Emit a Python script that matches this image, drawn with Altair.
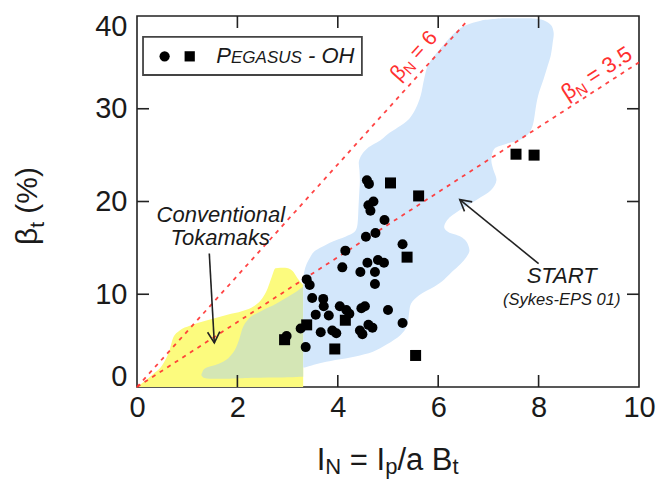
import math
import altair as alt
import pandas as pd

FONT = "Liberation Sans"
TXT = "#1a1a1a"
RED = "#ff3030"
W, H = 502, 371

# ---------------- data ----------------
circle_x = [4.58, 4.62, 4.71, 4.61, 4.65, 4.93, 4.75, 4.56, 5.29, 4.15, 4.09, 4.45, 4.59, 4.80,
            4.92, 4.74, 4.74, 3.38, 3.44, 3.49, 3.71, 3.72, 4.04, 4.17, 4.23, 4.47, 4.54, 5.00,
            3.56, 3.82, 3.26, 3.66, 3.89, 3.97, 4.44, 4.49, 4.61, 4.69, 5.29, 3.36, 2.98]
circle_y = [22.3, 21.9, 20.0, 19.6, 19.0, 18.0, 16.6, 16.2, 15.4, 14.7, 12.9, 12.4, 13.4, 13.7,
            13.4, 12.4, 11.1, 11.6, 11.0, 9.6, 9.5, 8.7, 8.7, 8.3, 7.9, 8.5, 8.7, 8.3,
            7.8, 7.7, 6.3, 5.9, 6.1, 5.8, 6.1, 5.7, 6.7, 6.4, 6.9, 4.3, 5.5]
square_x = [5.05, 5.61, 7.55, 7.91, 5.38, 3.38, 4.15, 2.94, 3.94, 5.55]
square_y = [22.0, 20.6, 25.1, 25.0, 14.0, 6.7, 7.2, 5.1, 4.1, 3.4]

# START region (horizontal slices: y, left x, right x)
blue_y = [2.1, 2.5, 2.9, 3.3, 3.8, 4.6, 5.6, 6.6, 8.0, 9.0, 9.9, 10.8, 11.6, 12.4, 13.3, 14.0,
          14.6, 15.1, 15.7, 16.2, 16.7, 17.2, 18.0, 19.1, 20.2, 21.2, 22.3, 23.4, 24.3, 25.0,
          25.7, 26.2, 26.6, 27.2, 28.0, 28.9, 30.0, 31.4, 33.2, 34.6, 35.7, 37.1, 38.2, 39.0,
          39.5, 39.75]
blue_left = [3.31, 3.31, 3.31, 3.31, 3.31, 3.31, 3.31, 3.31, 3.31, 3.31, 3.31, 3.31, 3.31, 3.33,
             3.38, 3.45, 3.53, 3.68, 3.90, 4.15, 4.33, 4.38, 4.40, 4.41, 4.42, 4.43, 4.44, 4.43,
             4.42, 4.47, 4.58, 4.72, 4.85, 4.98, 5.20, 5.42, 5.55, 5.65, 5.72, 5.79, 5.92, 6.14,
             6.33, 6.55, 6.85, 7.30]
blue_right = [3.35, 3.60, 3.95, 4.35, 4.70, 4.98, 5.25, 5.38, 5.42, 5.46, 5.62, 5.92, 6.12, 6.27,
              6.45, 6.56, 6.62, 6.61, 6.56, 6.45, 6.20, 6.12, 6.18, 6.44, 6.77, 7.05, 7.16, 7.10,
              7.06, 7.07, 7.12, 7.35, 7.60, 7.78, 7.87, 7.91, 7.94, 7.99, 8.10, 8.18, 8.24, 8.28,
              8.30, 8.25, 8.12, 7.85]

# Conventional tokamak region (upper edge, down to 0)
yellow_x = [0.0, 0.3, 0.52, 0.65, 0.72, 0.85, 1.05, 1.4, 1.8, 2.1, 2.35, 2.5, 2.6, 2.68, 2.76,
            2.95, 3.1, 3.2, 3.31]
yellow_top = [0.0, 1.3, 2.5, 4.0, 5.3, 6.1, 6.6, 7.2, 7.8, 8.2, 8.8, 9.6, 10.6, 11.8, 12.8,
              12.85, 12.5, 11.7, 11.0]

# overlap region
green_x = [1.28, 1.33, 1.45, 1.6, 1.85, 1.97, 2.04, 2.1, 2.2, 2.45, 2.78, 3.0, 3.18, 3.31]
green_low = [1.3, 1.0, 0.9, 0.88, 0.9, 0.92, 0.93, 0.95, 0.97, 1.0, 1.02, 1.05, 1.08, 1.1]
green_high = [1.3, 1.9, 2.2, 2.45, 3.3, 4.2, 5.2, 6.3, 7.2, 8.1, 9.0, 9.7, 10.3, 10.8]

beta_n = [6.0, 3.5]
beta_x_end = [6.6, 10.0]

x_ticks = [0, 2, 4, 6, 8, 10]
y_ticks = [0, 10, 20, 30, 40]
x_minor = [2, 4, 6, 8]
y_minor = [10, 20, 30]

note_text = ["Conventional", "Tokamaks", "START", "(Sykes-EPS 01)"]
note_x = [1.67, 1.66, 8.46, 8.46]
note_y = [17.75, 15.3, 11.18, 8.84]
note_size = [22, 22, 22, 16.5]

arrow_x = [1.44, 8.0]
arrow_y = [14.4, 13.3]
arrow_x2 = [1.54, 6.43]
arrow_y2 = [4.75, 20.2]

legend_x = [0.55, 1.05]
legend_y = [35.65, 35.65]
legend_shape = ["circle", "square"]
legend_box = [0.12, 4.48, 37.74, 33.64]

# ---------------- helpers ----------------
XS = alt.Scale(domain=[0, 10], nice=False, zero=False)
YS = alt.Scale(domain=[0, 40], nice=False, zero=False)

CW = {'I': .278, 'N': .722, ' ': .278, '=': .584, 'p': .556, '/': .278, 'a': .556, 'B': .667,
      't': .278, 'β': .575, '(': .333, '%': .889, ')': .333, '6': .556, '3': .556, '.': .278,
      '5': .556, 'P': .667, 'E': .667, 'G': .778, 'A': .667, 'S': .667, 'U': .722, '-': .333,
      'O': .778, 'H': .722}


def text_parts(x, y, parts, angle=0, italic=False, color=TXT):
    layers = []
    off = 0.0
    for txt, size, dy in parts:
        lead = len(txt) - len(txt.lstrip(' '))
        shown = txt.strip(' ')
        dx = off + lead * CW[' '] * size
        if shown:
            props = dict(align='left', baseline='alphabetic', dx=dx, dy=dy, fontSize=size,
                         font=FONT, color=color)
            if angle:
                props['angle'] = angle
            if italic:
                props['fontStyle'] = 'italic'
            layers.append(
                alt.Chart(pd.DataFrame({'x': [x], 'y': [y], 't': [shown]}))
                .mark_text(**props)
                .encode(x=alt.X('x:Q', scale=XS, axis=None),
                        y=alt.Y('y:Q', scale=YS, axis=None),
                        text='t:N'))
        off += sum(CW.get(c, 0.556) for c in txt) * size
    return layers


ax_x_main = alt.Axis(orient='bottom', values=x_ticks, ticks=False, tickSize=0, domain=False,
                     grid=False, labelFontSize=29, labelPadding=6, labelColor=TXT,
                     labelFont=FONT, labelFlush=False, labelOverlap=False, title='')
ax_y_main = alt.Axis(orient='left', values=y_ticks, ticks=False, tickSize=0, domain=False,
                     grid=False, labelFontSize=29, labelPadding=10, labelColor=TXT,
                     labelFont=FONT, labelFlush=True, labelFlushOffset=4,
                     labelOverlap=False, title='')

# ---------------- layers ----------------
yellow_df = pd.DataFrame({'x': yellow_x, 'y': yellow_top})
yellow = alt.Chart(yellow_df).mark_area(color="#fcfb7e", interpolate='monotone').encode(
    x=alt.X('x:Q', scale=XS, axis=ax_x_main),
    y=alt.Y('y:Q', scale=YS, axis=ax_y_main))

green_df = pd.DataFrame({'x': green_x, 'lo': green_low, 'hi': green_high})
green = alt.Chart(green_df).mark_area(color="#d4e6b5", interpolate='monotone').encode(
    x=alt.X('x:Q', scale=XS, axis=None),
    y=alt.Y('hi:Q', scale=YS, axis=None),
    y2='lo:Q')

blue_df = pd.DataFrame({'y': blue_y, 'l': blue_left, 'r': blue_right})
blue = alt.Chart(blue_df).mark_area(color="#d3e7fb", orient='horizontal',
                                    interpolate='catmull-rom').encode(
    y=alt.Y('y:Q', scale=YS, axis=None),
    x=alt.X('l:Q', scale=XS, axis=None),
    x2='r:Q')

# inward ticks on all four sides, placed through the scales
TICK = 12
xt = pd.DataFrame({'v': x_minor})
yt = pd.DataFrame({'v': y_minor})
tick_style = dict(color='#222', strokeWidth=1.6)
ticks_bottom = alt.Chart(xt).mark_rule(**tick_style).encode(
    x=alt.X('v:Q', scale=XS, axis=None), y=alt.value(H), y2=alt.value(H - TICK))
ticks_top = alt.Chart(xt).mark_rule(**tick_style).encode(
    x=alt.X('v:Q', scale=XS, axis=None), y=alt.value(0), y2=alt.value(TICK))
ticks_left = alt.Chart(yt).mark_rule(**tick_style).encode(
    y=alt.Y('v:Q', scale=YS, axis=None), x=alt.value(0), x2=alt.value(TICK))
ticks_right = alt.Chart(yt).mark_rule(**tick_style).encode(
    y=alt.Y('v:Q', scale=YS, axis=None), x=alt.value(W), x2=alt.value(W - TICK))

line_rows = []
for b, xe in zip(beta_n, beta_x_end):
    line_rows.append({'x': 0.0, 'y': 0.0, 'b': str(b)})
    line_rows.append({'x': xe, 'y': b * xe, 'b': str(b)})
lines = alt.Chart(pd.DataFrame(line_rows)).mark_line(
    color=RED, strokeDash=[4, 5], strokeWidth=1.8, opacity=0.9).encode(
    x=alt.X('x:Q', scale=XS, axis=None),
    y=alt.Y('y:Q', scale=YS, axis=None),
    detail='b:N')

circles = alt.Chart(pd.DataFrame({'x': circle_x, 'y': circle_y})).mark_point(
    shape='circle', filled=True, color='black', size=100, opacity=1).encode(
    x=alt.X('x:Q', scale=XS, axis=None), y=alt.Y('y:Q', scale=YS, axis=None))
squares = alt.Chart(pd.DataFrame({'x': square_x, 'y': square_y})).mark_point(
    shape='square', filled=True, color='black', size=121, opacity=1).encode(
    x=alt.X('x:Q', scale=XS, axis=None), y=alt.Y('y:Q', scale=YS, axis=None))

# legend box
box = alt.Chart(pd.DataFrame({'x': [legend_box[0]], 'x2': [legend_box[1]],
                              'y': [legend_box[2]], 'y2': [legend_box[3]]})).mark_rect(
    fill='white', stroke='#444', strokeWidth=1.8).encode(
    x=alt.X('x:Q', scale=XS, axis=None), x2='x2:Q',
    y=alt.Y('y:Q', scale=YS, axis=None), y2='y2:Q')
legend_syms = alt.Chart(pd.DataFrame({'x': legend_x, 'y': legend_y, 's': legend_shape})).mark_point(
    filled=True, color='black', size=105, opacity=1).encode(
    x=alt.X('x:Q', scale=XS, axis=None), y=alt.Y('y:Q', scale=YS, axis=None),
    shape=alt.Shape('s:N', scale=None))
legend_text = text_parts(1.58, 34.93, [("P", 22, 0), ("EGASUS", 17, 0), (" - OH", 22, 0)],
                         italic=True)

# notes
notes = alt.Chart(pd.DataFrame({'x': note_x, 'y': note_y, 't': note_text, 's': note_size})).mark_text(
    align='center', baseline='alphabetic', font=FONT, fontStyle='italic', color=TXT).encode(
    x=alt.X('x:Q', scale=XS, axis=None), y=alt.Y('y:Q', scale=YS, axis=None),
    text='t:N', size=alt.Size('s:Q', scale=None))

arrows = alt.Chart(pd.DataFrame({'x': arrow_x, 'y': arrow_y, 'x2': arrow_x2, 'y2': arrow_y2})).mark_rule(
    color='#222', strokeWidth=1.6).encode(
    x=alt.X('x:Q', scale=XS, axis=None), y=alt.Y('y:Q', scale=YS, axis=None),
    x2='x2:Q', y2='y2:Q')
head_angle = []
for x1, y1, x2, y2 in zip(arrow_x, arrow_y, arrow_x2, arrow_y2):
    dxp = (x2 - x1) * W / 10.0
    dyp = -(y2 - y1) * H / 40.0
    head_angle.append(math.degrees(math.atan2(-dxp, dyp)) % 360)
heads = alt.Chart(pd.DataFrame({'x': arrow_x2, 'y': arrow_y2, 'a': head_angle})).mark_point(
    shape="M-0.5,-0.9L0,0L0.5,-0.9", filled=False, color='#222', strokeWidth=1.6, size=600,
    opacity=1).encode(
    x=alt.X('x:Q', scale=XS, axis=None), y=alt.Y('y:Q', scale=YS, axis=None),
    angle=alt.Angle('a:Q', scale=None))

# beta_N labels (rotated along the lines)
ang6 = (360 - math.degrees(math.atan(6 * (H / 40.0) / (W / 10.0)))) % 360
ang35 = (360 - math.degrees(math.atan(3.5 * (H / 40.0) / (W / 10.0)))) % 360
lab6 = text_parts(5.22, 32.9, [("β", 21, 0), ("N", 15, 4), (" = 6", 21, 0)], angle=ang6, color=RED)
lab35 = text_parts(8.57, 30.85, [("β", 22, 0), ("N", 15, 4), (" = 3.5", 22, 0)], angle=ang35, color=RED)

# axis titles
xtitle = text_parts(3.58, -8.95, [("I", 31, 0), ("N", 22, 4), (" = I", 31, 0), ("p", 22, 4),
                                  ("/a B", 31, 0), ("t", 22, 4)])
ytitle = text_parts(-2.0, 15.3, [("β", 30, 0), ("t", 21, 7), (" (%)", 30, 0)], angle=270)

chart = alt.layer(
    yellow, green, blue, ticks_bottom, ticks_top, ticks_left, ticks_right, lines, circles,
    squares, box, legend_syms, *legend_text, notes, arrows, heads, *lab6, *lab35, *xtitle,
    *ytitle
).resolve_axis(x='independent', y='independent').properties(
    width=W, height=H,
    autosize=alt.AutoSizeParams(type='none'),
    padding={'left': 129, 'top': 8, 'right': 18, 'bottom': 93},
    background='white'
).configure_view(stroke='#222', strokeWidth=1.6)

chart.save("out.html", embed_options={"renderer": "svg", "actions": False})
